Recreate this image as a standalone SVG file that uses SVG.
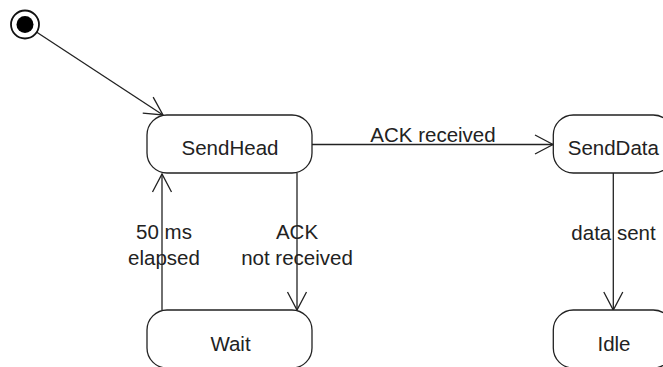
<svg xmlns="http://www.w3.org/2000/svg" width="663" height="367" viewBox="0 0 663 367">
  <style>
    .state { fill: #ffffff; stroke: #222222; stroke-width: 1.3; }
    .lbl { font-family: "Liberation Sans", Arial, sans-serif; font-size: 20.5px; fill: #222222; text-anchor: middle; }
    .edge { fill: none; stroke: #222222; stroke-width: 1.3; marker-end: url(#open); }
  </style>
  <defs>
    <marker id="open" markerUnits="userSpaceOnUse" viewBox="-20 -12 22 24" refX="0" refY="0" markerWidth="22" markerHeight="24" orient="auto" overflow="visible">
      <path d="M-18,-9.5 L0,0 L-18,9.5" fill="none" stroke="#222222" stroke-width="1.3"/>
    </marker>
  </defs>
  <rect width="663" height="367" fill="#ffffff"/>

  <g id="connectors">
    <line class="edge" x1="36.8" y1="32.2" x2="163" y2="115"/>
    <line class="edge" x1="312" y1="144.5" x2="553" y2="144.5"/>
    <line class="edge" x1="297" y1="173" x2="297" y2="310"/>
    <line class="edge" x1="162" y1="310" x2="162" y2="174"/>
    <line class="edge" x1="613.3" y1="173" x2="613.3" y2="310"/>
    <text class="lbl" x="433" y="141.5">ACK received</text>
    <text class="lbl" x="297" y="239">ACK</text>
    <text class="lbl" x="297" y="265">not received</text>
    <text class="lbl" x="164" y="239">50 ms</text>
    <text class="lbl" x="164" y="265">elapsed</text>
    <text class="lbl" x="613.5" y="240">data sent</text>
  </g>

  <g id="initial">
    <circle cx="25" cy="24.5" r="14" fill="#ffffff" stroke="#111111" stroke-width="1.8"/>
    <circle cx="25" cy="24.5" r="8.5" fill="#000000"/>
  </g>

  <g id="SendHead">
    <rect class="state" x="147" y="115" width="165" height="58" rx="20" ry="20"/>
    <text class="lbl" x="230" y="154.5">SendHead</text>
  </g>

  <g id="SendData">
    <rect class="state" x="553.3" y="115" width="120" height="58" rx="20" ry="20"/>
    <text class="lbl" x="613.3" y="155">SendData</text>
  </g>

  <g id="Wait">
    <rect class="state" x="147" y="310" width="165" height="58" rx="20" ry="20"/>
    <text class="lbl" x="230.5" y="351">Wait</text>
  </g>

  <g id="Idle">
    <rect class="state" x="553.3" y="310" width="120" height="58" rx="20" ry="20"/>
    <text class="lbl" x="614" y="350.5">Idle</text>
  </g>
</svg>
